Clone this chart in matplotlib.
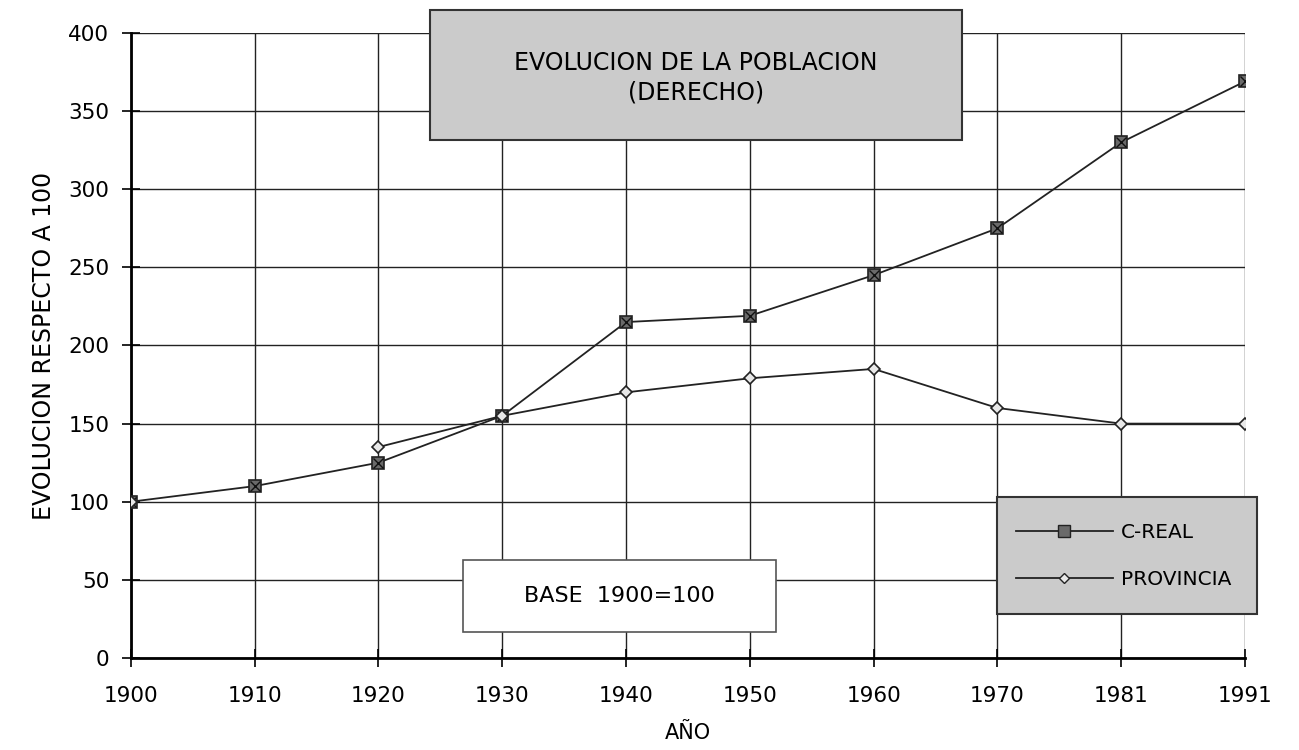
import numpy as np
import matplotlib
matplotlib.use('Agg')
import matplotlib.pyplot as plt
from matplotlib.patches import Rectangle
from matplotlib.lines import Line2D

## data (1900 = 100)
years = ['1900', '1910', '1920', '1930', '1940', '1950', '1960', '1970', '1981', '1991']
c_real = [100, 110, 125, 155, 215, 219, 245, 275, 330, 369]
provincia = [100, np.nan, 135, 155, 170, 179, 185, 160, 150, 150]

plt.rcParams['font.family'] = ['DejaVu Sans']
plt.rcParams['hatch.color'] = '#9a9a9a'
plt.rcParams['hatch.linewidth'] = 0.8

fig = plt.figure(figsize=(12.99, 7.5), dpi=100)
ax = fig.add_axes([0.1008, 0.1227, 0.8576, 0.8333])

x = np.arange(len(years))
ax.plot(x, c_real, color='#222222', lw=1.3, marker='s', ms=9,
        mfc='#6a6a6a', mec='#222222', mew=1.2, zorder=4)
ax.plot(x, c_real, ls='none', marker='x', ms=7, mec='#111111', mew=1.0, zorder=5)
ax.plot(x, provincia, color='#222222', lw=1.3, marker='D', ms=6,
        mfc='#e8e8e8', mec='#222222', mew=1.2, zorder=6)

ax.set_xlim(0, len(years) - 1)
ax.set_ylim(0, 400)
ax.set_xticks(x)
ax.set_xticklabels(years)
ax.set_yticks(range(0, 401, 50))
ax.grid(True, color='#222222', lw=1.0)
ax.set_axisbelow(True)
for s in ['top', 'right']:
    ax.spines[s].set_visible(False)
for s in ['left', 'bottom']:
    ax.spines[s].set_linewidth(2.0)
ax.tick_params(direction='inout', length=13, width=1.2, labelsize=15.5)
ax.tick_params(axis='x', pad=14)
ax.tick_params(axis='y', pad=9)
ax.set_xlabel('AÑO', fontsize=15, labelpad=12)
ax.set_ylabel('EVOLUCION RESPECTO A 100', fontsize=17, labelpad=9)


def grey_box(x0, y0, w, h):
    # stippled grey fill + dark outline, in figure coords
    fig.add_artist(Rectangle((x0, y0), w, h, transform=fig.transFigure,
                             facecolor='#cbcbcb', edgecolor='none', hatch='....', zorder=2))
    fig.add_artist(Rectangle((x0, y0), w, h, transform=fig.transFigure,
                             facecolor='none', edgecolor='#333333', lw=1.5, zorder=2))


## title box
grey_box(0.331, 0.8133, 0.4096, 0.1733)
fig.text(0.5358, 0.8967, 'EVOLUCION DE LA POBLACION\n(DERECHO)', ha='center', va='center',
         fontsize=17, linespacing=1.3, zorder=3)

## base box
fig.add_artist(Rectangle((0.3564, 0.1573), 0.241, 0.096, transform=fig.transFigure,
                         facecolor='white', edgecolor='#555555', lw=1.2, zorder=2))
fig.text(0.4769, 0.2053, 'BASE  1900=100', ha='center', va='center', fontsize=16, zorder=3)

## legend box
grey_box(0.7675, 0.1813, 0.2002, 0.156)
handles = [Line2D([], [], color='#222222', lw=1.3, marker='s', ms=8, mfc='#6a6a6a', mec='#222222'),
           Line2D([], [], color='#222222', lw=1.3, marker='D', ms=5, mfc='#e8e8e8', mec='#222222')]
fig.legend(handles, ['C-REAL', 'PROVINCIA'], loc='center', bbox_to_anchor=(0.8650, 0.259),
           frameon=False, fontsize=14.5, handlelength=4.8, labelspacing=1.4, handletextpad=0.4)

fig.savefig('out.png', dpi=100)
